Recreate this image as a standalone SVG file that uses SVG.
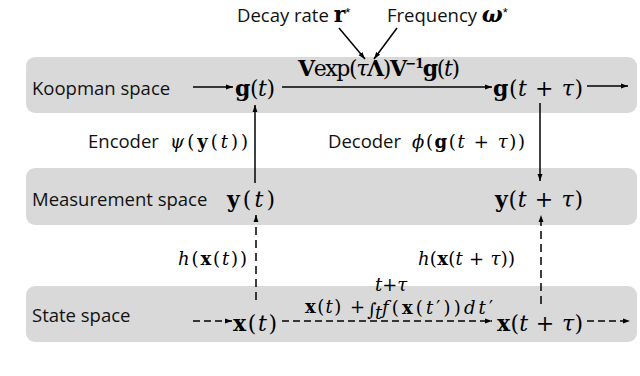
<svg xmlns="http://www.w3.org/2000/svg" width="640" height="376" viewBox="0 0 640 376">
<style>
.band{fill:#d9d9d9}
.lbl{font-family:"Open Sans","Liberation Sans",sans-serif;font-size:18.5px;fill:#111}
.m{font-family:"DejaVu Serif","Liberation Serif",serif;font-size:22px;fill:#000}
.ms{font-family:"DejaVu Serif","Liberation Serif",serif;font-size:18px;fill:#000}
.st{font-family:"Liberation Sans",sans-serif;font-size:13px;fill:#000}
.b{font-weight:bold}
.i{font-style:italic}
.ln{stroke:#000;stroke-width:1.5;fill:none}
.da{stroke-dasharray:7 4}
.dv{stroke-dasharray:8 5}
</style>
<defs>
<marker id="ah" viewBox="0 0 10 10" refX="10" refY="5" markerWidth="7" markerHeight="7" markerUnits="userSpaceOnUse" orient="auto"><path d="M0,1.5 L10,5 L0,8.5 z" fill="#000"/></marker>
</defs>

<g id="bands">
<rect id="koopman-band" class="band" x="26" y="57" width="611" height="56" rx="9"/>
<rect id="measurement-band" class="band" x="26" y="168" width="611" height="57" rx="9"/>
<rect id="state-band" class="band" x="26" y="286" width="611" height="56" rx="9"/>
</g>

<g id="space-labels">
<text class="lbl" x="32" y="95">Koopman space</text>
<text class="lbl" x="32" y="206">Measurement space</text>
<text class="lbl" x="32" y="322">State space</text>
</g>

<g id="top-labels">
<text id="decay" class="lbl" x="237" y="22">Decay rate <tspan class="m b" font-size="20">r</tspan><tspan class="st" dy="-5">*</tspan></text>
<text id="freq" class="lbl" x="387" y="22">Frequency <tspan class="m b i" font-size="20">ω</tspan><tspan class="st" dy="-5">*</tspan></text>
</g>

<g id="node-gt"><text class="m" x="235" y="96" textLength="40" lengthAdjust="spacing"><tspan class="b">g</tspan>(<tspan class="i">t</tspan>)</text></g>
<g id="node-gtt"><text class="m" x="493" y="96" textLength="90" lengthAdjust="spacing"><tspan class="b">g</tspan>(<tspan class="i">t</tspan> + <tspan class="i">τ</tspan>)</text></g>
<g id="node-yt"><text class="m" x="227" y="207" textLength="48" lengthAdjust="spacing"><tspan class="b">y</tspan>(<tspan class="i">t</tspan>)</text></g>
<g id="node-ytt"><text class="m" x="495" y="207" textLength="88" lengthAdjust="spacing"><tspan class="b">y</tspan>(<tspan class="i">t</tspan> + <tspan class="i">τ</tspan>)</text></g>
<g id="node-xt"><text class="m" x="233" y="331" textLength="44" lengthAdjust="spacing"><tspan class="b">x</tspan>(<tspan class="i">t</tspan>)</text></g>
<g id="node-xtt"><text class="m" x="497" y="331" textLength="86" lengthAdjust="spacing"><tspan class="b">x</tspan>(<tspan class="i">t</tspan> + <tspan class="i">τ</tspan>)</text></g>

<g id="connectors">
<line class="ln" x1="193" y1="87" x2="233" y2="87" marker-end="url(#ah)"/>
<line class="ln" x1="282" y1="87" x2="492" y2="87" marker-end="url(#ah)"/>
<line class="ln" x1="587" y1="86" x2="628" y2="86" marker-end="url(#ah)"/>
<line class="ln" x1="339" y1="28" x2="365" y2="59" marker-end="url(#ah)"/>
<line class="ln" x1="397" y1="28" x2="374" y2="59" marker-end="url(#ah)"/>
<line class="ln" x1="255" y1="183" x2="255" y2="105" marker-end="url(#ah)"/>
<line class="ln" x1="540" y1="103" x2="540" y2="181" marker-end="url(#ah)"/>
<line class="ln dv" x1="256" y1="300" x2="256" y2="215" marker-end="url(#ah)"/>
<line class="ln dv" x1="541" y1="304" x2="541" y2="215" stroke-width="2.2" marker-end="url(#ah)"/>
<line class="ln da" x1="193" y1="321" x2="232" y2="321" marker-end="url(#ah)"/>
<line class="ln da" x1="282" y1="321" x2="492" y2="321" marker-end="url(#ah)"/>
<line class="ln da" x1="587" y1="321" x2="630" y2="321" marker-end="url(#ah)"/>
</g>

<g id="connector-labels">
<text class="m" font-size="19.5" x="298" y="76" textLength="162" lengthAdjust="spacing"><tspan class="b">V</tspan>exp(<tspan class="i">τ</tspan><tspan class="b">Λ</tspan>)<tspan class="b">V</tspan><tspan class="b" font-size="13" dy="-8">−1</tspan><tspan class="b" dy="8">g</tspan>(<tspan class="i">t</tspan>)</text>
<text class="lbl" x="88" y="148">Encoder</text>
<text class="ms" x="170" y="148" textLength="78" lengthAdjust="spacing"><tspan class="i">ψ</tspan>(<tspan class="b">y</tspan>(<tspan class="i">t</tspan>))</text>
<text class="lbl" x="328" y="148">Decoder</text>
<text class="ms" x="412" y="148" textLength="113" lengthAdjust="spacing"><tspan class="i">ϕ</tspan>(<tspan class="b">g</tspan>(<tspan class="i">t</tspan> + <tspan class="i">τ</tspan>))</text>
<text class="ms" x="178" y="265" textLength="69" lengthAdjust="spacing"><tspan class="i">h</tspan>(<tspan class="b">x</tspan>(<tspan class="i">t</tspan>))</text>
<text class="ms" x="418" y="265" textLength="97" lengthAdjust="spacing"><tspan class="i">h</tspan>(<tspan class="b">x</tspan>(<tspan class="i">t</tspan> + <tspan class="i">τ</tspan>))</text>
<text class="ms" x="305" y="313" textLength="60" lengthAdjust="spacing"><tspan class="b">x</tspan>(<tspan class="i">t</tspan>) +</text>
<text class="ms" x="367" y="316" font-size="23">∫</text>
<text class="ms i" x="375" y="319" font-size="9">t</text>
<text class="ms i" x="375" y="291" font-size="9">t+τ</text>
<text class="ms" x="382" y="314" textLength="111" lengthAdjust="spacing"><tspan class="i">f</tspan>(<tspan class="b">x</tspan>(<tspan class="i">t</tspan>′))<tspan class="i">dt</tspan>′</text>
</g>
</svg>
